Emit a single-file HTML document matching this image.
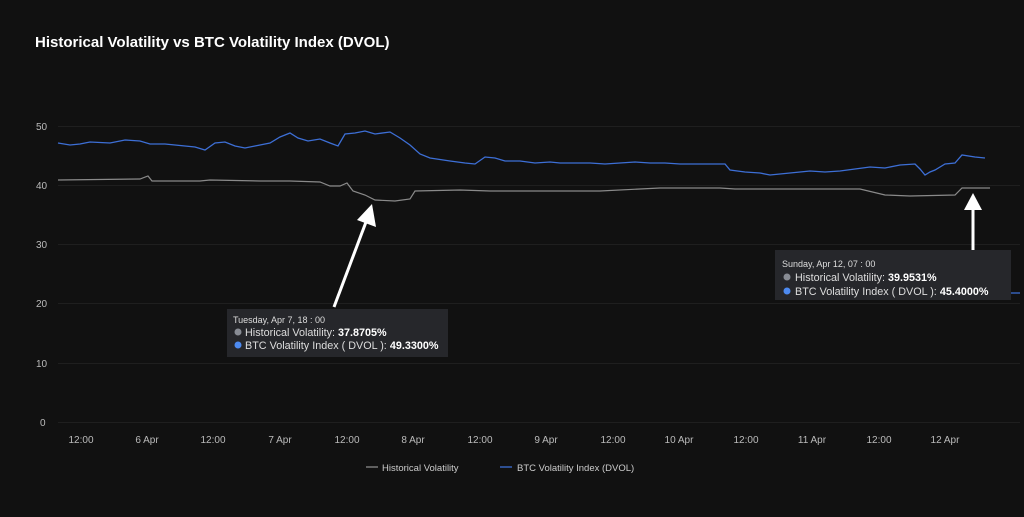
<!DOCTYPE html>
<html><head><style>
body{margin:0;background:#111;}
svg text{font-family:"Liberation Sans",sans-serif;}
</style></head><body>
<svg width="1024" height="512" viewBox="0 0 1024 512">
<rect width="1024" height="512" fill="#111111"/>
<text x="35" y="47" fill="#fff" font-size="15" font-weight="bold">Historical Volatility vs BTC Volatility Index (DVOL)</text>
<g stroke="#1f1f1f" stroke-width="1">
<line x1="58" y1="126.5" x2="1020" y2="126.5"/><line x1="58" y1="185.5" x2="1020" y2="185.5"/>
<line x1="58" y1="244.5" x2="1020" y2="244.5"/><line x1="58" y1="303.5" x2="1020" y2="303.5"/>
<line x1="58" y1="363.5" x2="1020" y2="363.5"/><line x1="58" y1="422.5" x2="1020" y2="422.5"/>
</g>
<g fill="#bbb" font-size="10">
<text x="36" y="130">50</text><text x="36" y="189">40</text><text x="36" y="248">30</text>
<text x="36" y="307">20</text><text x="36" y="367">10</text><text x="40" y="426">0</text>
</g>
<g fill="#bbb" font-size="10" text-anchor="middle">
<text x="81" y="443">12:00</text><text x="147" y="443">6 Apr</text><text x="213" y="443">12:00</text>
<text x="280" y="443">7 Apr</text><text x="347" y="443">12:00</text><text x="413" y="443">8 Apr</text>
<text x="480" y="443">12:00</text><text x="546" y="443">9 Apr</text><text x="613" y="443">12:00</text>
<text x="679" y="443">10 Apr</text><text x="746" y="443">12:00</text><text x="812" y="443">11 Apr</text>
<text x="879" y="443">12:00</text><text x="945" y="443">12 Apr</text>
</g>
<polyline fill="none" stroke="#3d6fd6" stroke-width="1.3" points="58,143 70,145 80,144 90,142 110,143 125,140 140,141 150,144 165,144 175,145 195,147 205,150 215,143 225,142 235,146 245,148 255,146 270,143 280,137 290,133 298,138 308,141 320,139 330,143 338,146 345,134 355,133 365,131 375,134 390,132 400,138 410,145 420,154 430,158 450,161 465,163 475,164 485,157 495,158 505,161 520,161 535,163 550,162 560,163 575,163 590,163 605,164 620,163 635,162 650,163 665,163 680,164 695,164 725,164 730,170 745,172 760,173 770,175 790,173 810,171 825,172 840,171 855,169 870,167 885,168 900,165 915,164 920,169 925,175 930,172 935,170 945,164 955,163 962,155 975,157 985,158"/>
<polyline fill="none" stroke="#8a8a8a" stroke-width="1.2" points="58,180 140,179 148,176 152,181 200,181 210,180 260,181 290,181 320,182 330,186 340,186 347,183 353,191 365,195 375,200 395,201 410,199 415,191 460,190 490,191 520,191 600,191 640,189 660,188 720,188 735,189 770,189 790,189 850,189 860,189 885,195 910,196 955,195 962,188 990,188"/>
<polyline fill="none" stroke="#3d6fd6" stroke-width="1.3" points="1000,293 1020,293"/>
<line x1="334" y1="307" x2="366" y2="222" stroke="#fff" stroke-width="3"/>
<polygon points="372,204 376,227 357,220" fill="#fff"/>
<line x1="973" y1="259" x2="973" y2="208" stroke="#fff" stroke-width="3"/>
<polygon points="973,193 982,210 964,210" fill="#fff"/>
<rect x="227" y="309" width="221" height="48" fill="#26272b"/>
<text x="233" y="323" fill="#ddd" font-size="9">Tuesday, Apr 7, 18 : 00</text>
<circle cx="238" cy="332" r="3.5" fill="#888c94"/>
<text x="245" y="336" fill="#ddd" font-size="10.8">Historical Volatility: <tspan font-weight="bold" fill="#fff">37.8705%</tspan></text>
<circle cx="238" cy="345" r="3.5" fill="#4d8af0"/>
<text x="245" y="349" fill="#ddd" font-size="10.8">BTC Volatility Index ( DVOL ): <tspan font-weight="bold" fill="#fff">49.3300%</tspan></text>
<rect x="775" y="250" width="236" height="50" fill="#26272b"/>
<text x="782" y="267" fill="#ddd" font-size="9">Sunday, Apr 12, 07 : 00</text>
<circle cx="787" cy="277" r="3.5" fill="#888c94"/>
<text x="795" y="281" fill="#ddd" font-size="10.8">Historical Volatility: <tspan font-weight="bold" fill="#fff">39.9531%</tspan></text>
<circle cx="787" cy="291" r="3.5" fill="#4d8af0"/>
<text x="795" y="295" fill="#ddd" font-size="10.8">BTC Volatility Index ( DVOL ): <tspan font-weight="bold" fill="#fff">45.4000%</tspan></text>
<line x1="366" y1="467" x2="378" y2="467" stroke="#8a8a8a" stroke-width="1.3"/>
<text x="382" y="471" fill="#ccc" font-size="9.5">Historical Volatility</text>
<line x1="500" y1="467" x2="512" y2="467" stroke="#3d6fd6" stroke-width="1.3"/>
<text x="517" y="471" fill="#ccc" font-size="9.5">BTC Volatility Index (DVOL)</text>
</svg>
</body></html>
